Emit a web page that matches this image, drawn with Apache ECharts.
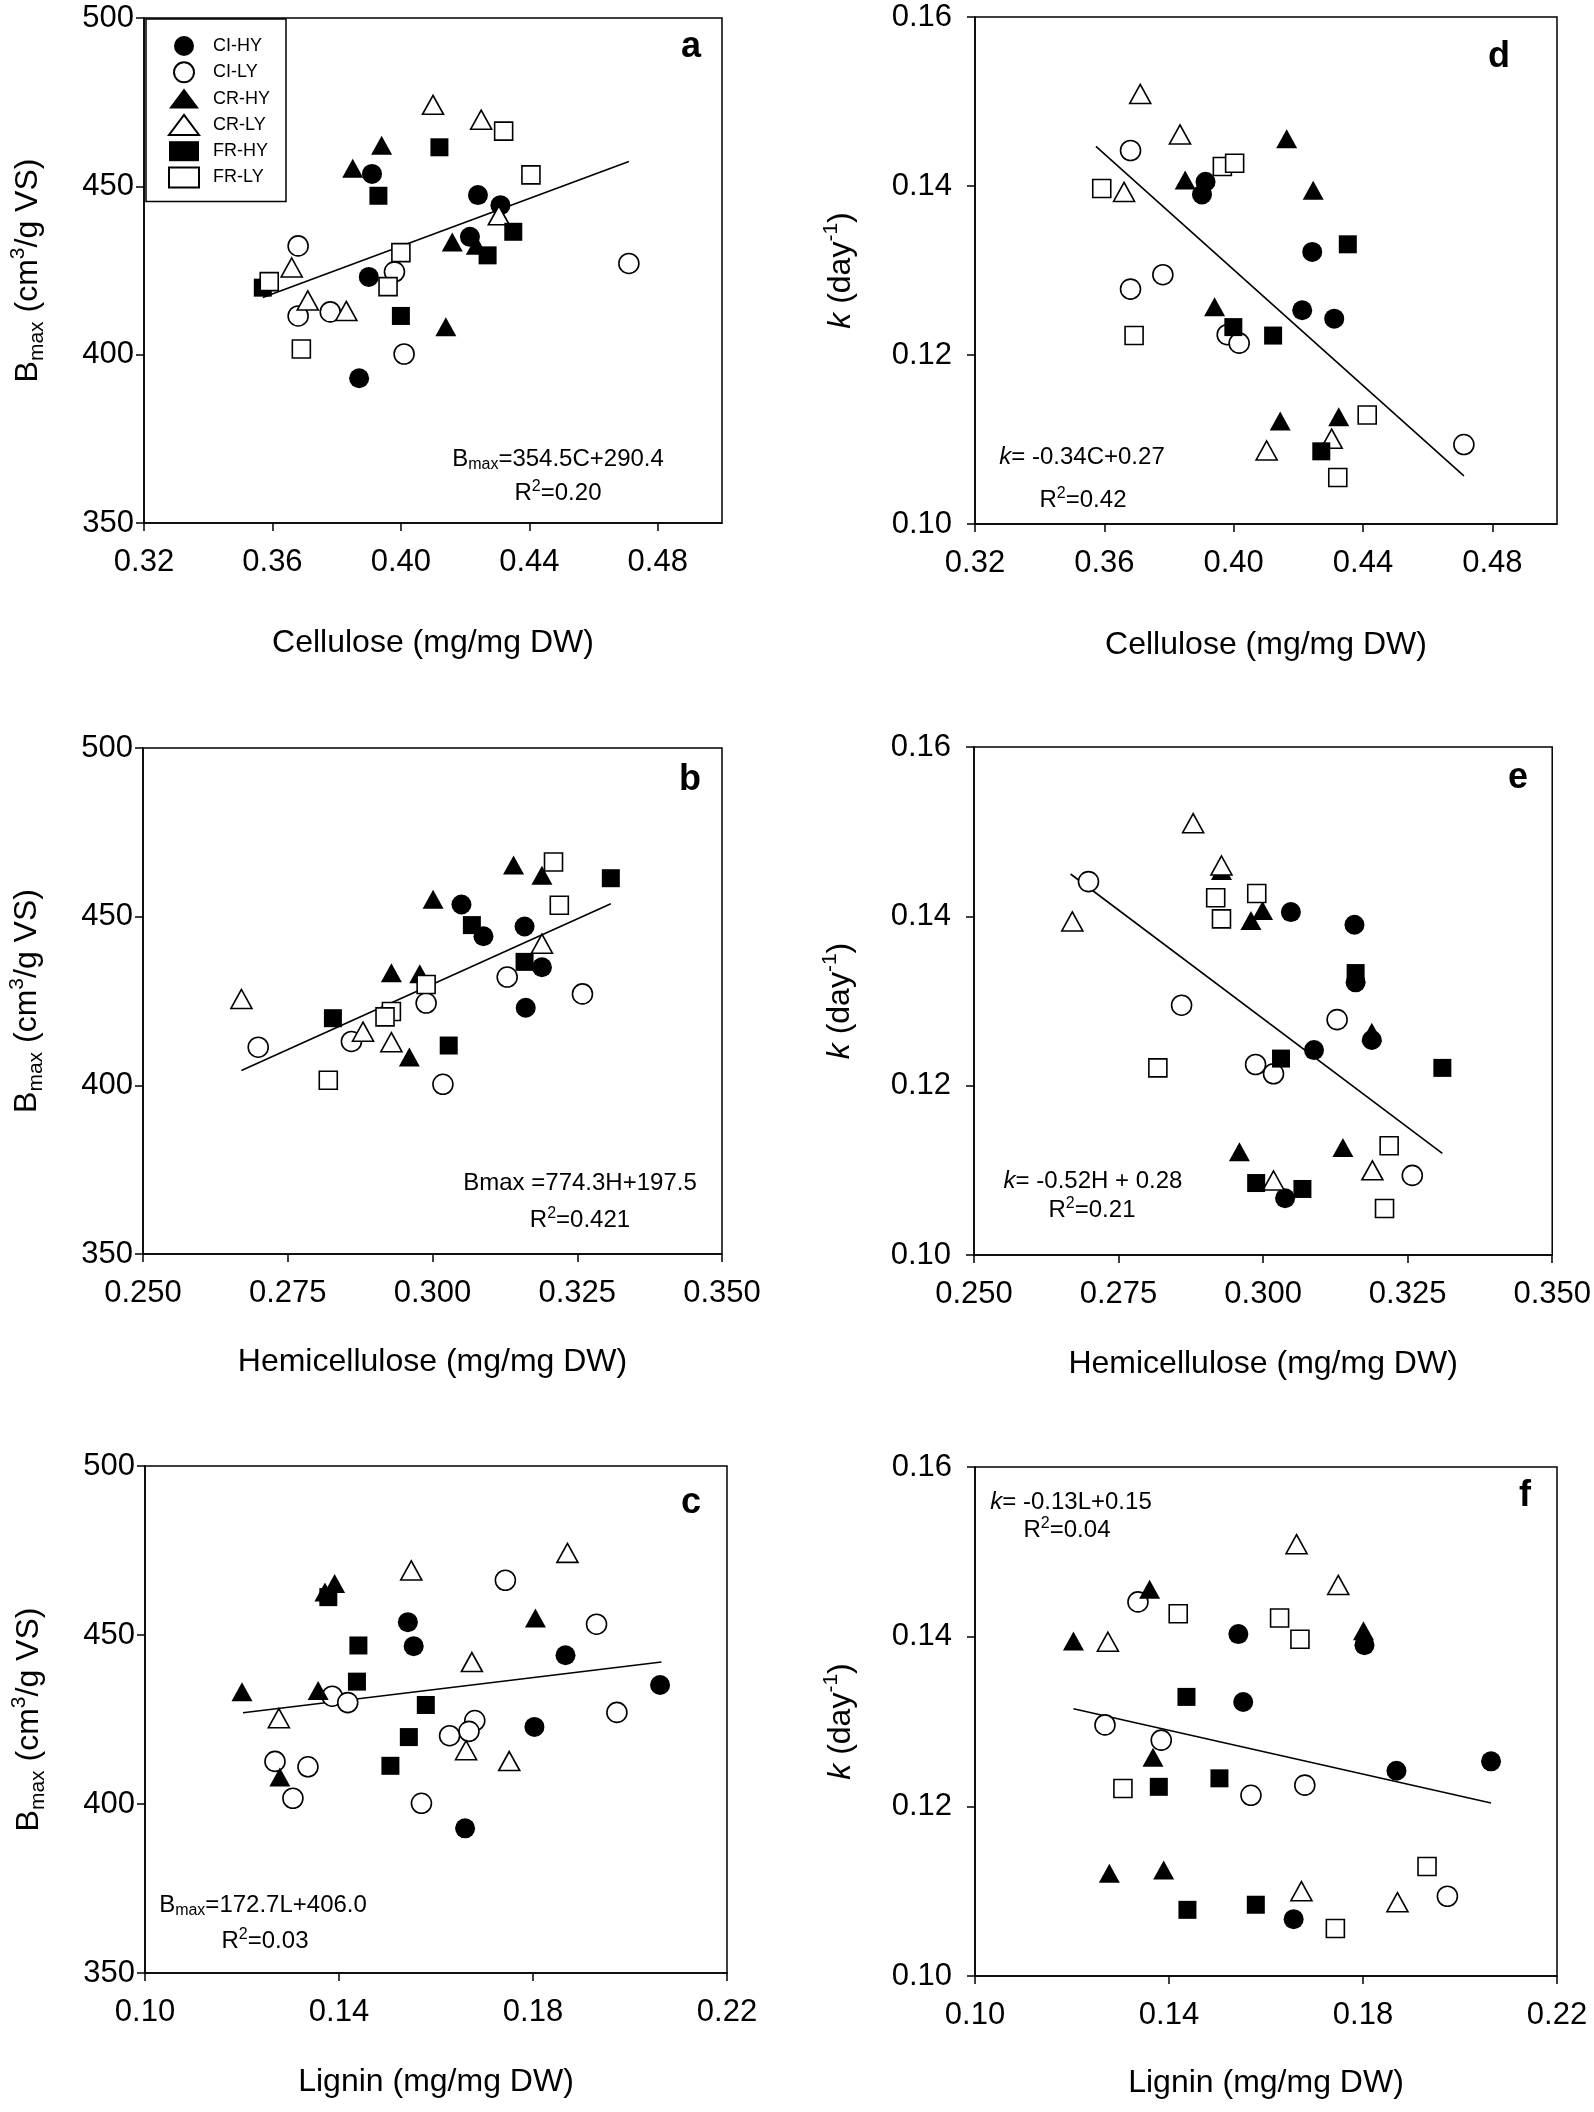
<!DOCTYPE html>
<html>
<head>
<meta charset="utf-8">
<title>Bmax and k versus fibre composition</title>
<script src="https://cdn.jsdelivr.net/npm/echarts@6.0.0/dist/echarts.min.js"></script>
<style>
  html, body { margin: 0; padding: 0; background: #fff; }
  #chart { width: 1594px; height: 2112px; }
</style>
</head>
<body>
<div id="chart"></div>
<script>
const FONT = '"Liberation Sans", Arial, Helvetica, sans-serif';

// legend groups
const groupNames = ['CI-HY', 'CI-LY', 'CR-HY', 'CR-LY', 'FR-HY', 'FR-LY'];
const groupSymbols = ['circle', 'circle', 'triangle', 'triangle', 'rect', 'rect'];
const groupFilled = [true, false, true, false, true, false];

// tick labels
const cellTicks = [0.32, 0.36, 0.40, 0.44, 0.48];
const hemiTicks = [0.250, 0.275, 0.300, 0.325, 0.350];
const ligTicks = [0.10, 0.14, 0.18, 0.22];
const bmaxTicks = [350, 400, 450, 500];
const kTicks = [0.10, 0.12, 0.14, 0.16];

// a: cellulose vs Bmax
const aCIHY = [[0.391, 453.7], [0.424, 447.4], [0.431, 444.4], [0.4215, 435.0], [0.390, 423.1], [0.387, 393.0]];
const aCILY = [[0.368, 432.3], [0.368, 411.5], [0.378, 412.7], [0.398, 424.6], [0.401, 400.2], [0.471, 427.1]];
const aCRHY = [[0.385, 455.4], [0.394, 462.2], [0.416, 433.5], [0.4235, 432.5], [0.414, 408.3]];
const aCRLY = [[0.410, 474.2], [0.425, 469.8], [0.4305, 441.4], [0.366, 425.9], [0.371, 416.1], [0.383, 413.0]];
const aFRHY = [[0.412, 461.6], [0.393, 447.2], [0.435, 436.5], [0.427, 429.5], [0.400, 411.5], [0.357, 419.9]];
const aFRLY = [[0.432, 466.4], [0.4405, 453.4], [0.400, 430.3], [0.396, 420.2], [0.359, 421.7], [0.369, 401.7]];
const fitA = [[0.357, 417.0], [0.471, 457.4]];

// d: cellulose vs k
const dCIHY = [[0.3913, 0.1405], [0.3902, 0.1390], [0.4243, 0.1322], [0.4212, 0.1253], [0.4311, 0.1243]];
const dCILY = [[0.3681, 0.1442], [0.3681, 0.1278], [0.3781, 0.1295], [0.398, 0.1224], [0.4017, 0.1214], [0.4712, 0.1094]];
const dCRHY = [[0.4164, 0.1456], [0.385, 0.1407], [0.4246, 0.1395], [0.3941, 0.1257], [0.4144, 0.1122], [0.4325, 0.1127]];
const dCRLY = [[0.3711, 0.1509], [0.3834, 0.1461], [0.3661, 0.1393], [0.4102, 0.1087], [0.4303, 0.1101]];
const dFRHY = [[0.4353, 0.1331], [0.3999, 0.1233], [0.4122, 0.1223], [0.4271, 0.1086]];
const dFRLY = [[0.3592, 0.1397], [0.3965, 0.1423], [0.4003, 0.1427], [0.3692, 0.1223], [0.4413, 0.1129], [0.4322, 0.1055]];
const fitD = [[0.3574, 0.1447], [0.4712, 0.1057]];

// b: hemicellulose vs Bmax
const bCIHY = [[0.305, 453.6], [0.3088, 444.2], [0.3159, 447.1], [0.3189, 435.0], [0.3161, 423.0]];
const bCILY = [[0.2699, 411.3], [0.286, 413.0], [0.2989, 424.4], [0.3018, 400.3], [0.3129, 432.1], [0.3259, 427.1]];
const bCRHY = [[0.3001, 455.2], [0.2929, 433.4], [0.2978, 433.1], [0.296, 408.4], [0.314, 465.3], [0.3189, 462.3]];
const bCRLY = [[0.267, 425.6], [0.288, 415.9], [0.2929, 412.8], [0.3189, 442.0]];
const bFRHY = [[0.2828, 419.9], [0.3068, 447.5], [0.3159, 436.6], [0.3028, 411.8], [0.3308, 461.4]];
const bFRLY = [[0.3209, 466.2], [0.3219, 453.4], [0.2989, 429.9], [0.2929, 421.9], [0.2918, 420.3], [0.282, 401.5]];
const fitB = [[0.267, 404.4], [0.3308, 453.8]];

// e: hemicellulose vs k
const eCIHY = [[0.3048, 0.1405], [0.3158, 0.1390], [0.316, 0.1322], [0.3188, 0.1254], [0.3088, 0.1242], [0.3038, 0.1067]];
const eCILY = [[0.2698, 0.1441], [0.2859, 0.1295], [0.3128, 0.1278], [0.2987, 0.1225], [0.3018, 0.1214], [0.3258, 0.1094]];
const eCRHY = [[0.2928, 0.1454], [0.2999, 0.1407], [0.2979, 0.1395], [0.2959, 0.1122], [0.3138, 0.1127], [0.3188, 0.1263]];
const eCRLY = [[0.2879, 0.1510], [0.2928, 0.1460], [0.267, 0.1394], [0.3018, 0.1088], [0.3189, 0.1100]];
const eFRHY = [[0.316, 0.1333], [0.3031, 0.1232], [0.331, 0.1221], [0.2988, 0.1085], [0.3068, 0.1078]];
const eFRLY = [[0.2918, 0.1422], [0.2989, 0.1427], [0.2928, 0.1397], [0.2818, 0.1221], [0.3218, 0.1129], [0.321, 0.1055]];
const fitE = [[0.2667, 0.1450], [0.331, 0.1120]];

// c: lignin vs Bmax
const cCIHY = [[0.1542, 453.8], [0.1554, 446.7], [0.1867, 444.0], [0.2062, 435.2], [0.1803, 422.8], [0.166, 392.8]];
const cCILY = [[0.1386, 431.9], [0.1418, 430.0], [0.1743, 466.2], [0.1931, 453.2], [0.1973, 427.1], [0.168, 424.7],
  [0.1668, 421.5], [0.1628, 420.2], [0.1268, 412.6], [0.1336, 411.0], [0.1305, 401.7], [0.157, 400.2]];
const cCRHY = [[0.1391, 465.2], [0.1371, 462.7], [0.1805, 455.0], [0.120, 433.2], [0.1357, 433.6], [0.1278, 408.0]];
const cCRLY = [[0.1549, 469.1], [0.1871, 474.3], [0.1674, 442.0], [0.1276, 425.4], [0.1662, 415.9], [0.1751, 412.7]];
const cFRHY = [[0.1378, 461.2], [0.144, 446.9], [0.1437, 436.2], [0.1579, 429.3], [0.1544, 419.8], [0.1506, 411.3]];
const cFRLY = [];
const fitC = [[0.1202, 427.0], [0.2065, 442.0]];

// f: lignin vs k
const fCIHY = [[0.1543, 0.1403], [0.1553, 0.1323], [0.1803, 0.1390], [0.1869, 0.1242], [0.2064, 0.1253], [0.1657, 0.1067]];
const fCILY = [[0.1336, 0.1441], [0.1268, 0.1296], [0.1384, 0.1278], [0.1569, 0.1213], [0.168, 0.1225], [0.1974, 0.1094]];
const fCRHY = [[0.1203, 0.1395], [0.136, 0.1456], [0.1367, 0.1258], [0.1277, 0.1121], [0.1389, 0.1125], [0.1801, 0.1407]];
const fCRLY = [[0.1274, 0.1394], [0.1663, 0.1509], [0.1749, 0.1461], [0.1673, 0.1100], [0.1871, 0.1087]];
const fFRHY = [[0.1436, 0.1329], [0.1379, 0.1223], [0.1504, 0.1233], [0.1438, 0.1078], [0.1579, 0.1084]];
const fFRLY = [[0.1419, 0.1427], [0.1628, 0.1422], [0.167, 0.1397], [0.1305, 0.1221], [0.1932, 0.1129], [0.1743, 0.1056]];
const fitF = [[0.1203, 0.1315], [0.2064, 0.1204]];

const yKinds = {
  bmax: { min: 350, max: 500, ticks: bmaxTicks, dec: 0, labelMargin: 10, nameGap: 96,
    name: '{t|B}{s|max}{t| (cm}{p|3}{t|/g VS)}' },
  k: { min: 0.10, max: 0.16, ticks: kTicks, dec: 2, labelMargin: 23, nameGap: 114,
    name: '{i|k}{t| (day}{p|-1}{t|)}' }
};

const panels = [
  { grid: { left: 144, top: 18, width: 578, height: 505 }, xMin: 0.32, xMax: 0.50, xTicks: cellTicks, xDec: 2,
    xName: 'Cellulose (mg/mg DW)', xGap: 104, y: 'bmax', pts: [aCIHY, aCILY, aCRHY, aCRLY, aFRHY, aFRLY], fit: fitA,
    letter: ['a', 691, 47.5],
    eq: [['{t|B}{s|max}{t|=354.5C+290.4}', 558, 459], ['{t|R}{p|2}{t|=0.20}', 558, 493]] },
  { grid: { left: 975, top: 17, width: 582, height: 507 }, xMin: 0.32, xMax: 0.50, xTicks: cellTicks, xDec: 2,
    xName: 'Cellulose (mg/mg DW)', xGap: 105, y: 'k', pts: [dCIHY, dCILY, dCRHY, dCRLY, dFRHY, dFRLY], fit: fitD,
    letter: ['d', 1499, 57.5],
    eq: [['{i|k}{t|= -0.34C+0.27}', 1082, 457], ['{t|R}{p|2}{t|=0.42}', 1083, 500]] },
  { grid: { left: 143, top: 748, width: 579, height: 506 }, xMin: 0.25, xMax: 0.35, xTicks: hemiTicks, xDec: 3,
    xName: 'Hemicellulose (mg/mg DW)', xGap: 92, y: 'bmax', pts: [bCIHY, bCILY, bCRHY, bCRLY, bFRHY, bFRLY], fit: fitB,
    letter: ['b', 690, 780],
    eq: [['{t|Bmax =774.3H+197.5}', 580, 1183], ['{t|R}{p|2}{t|=0.421}', 580, 1220]] },
  { grid: { left: 974, top: 747, width: 581, height: 508 }, xMin: 0.25, xMax: 0.35, xTicks: hemiTicks, xDec: 3,
    xName: 'Hemicellulose (mg/mg DW)', xGap: 93, y: 'k', pts: [eCIHY, eCILY, eCRHY, eCRLY, eFRHY, eFRLY], fit: fitE,
    letter: ['e', 1518, 778],
    eq: [['{i|k}{t|= -0.52H + 0.28}', 1093, 1181], ['{t|R}{p|2}{t|=0.21}', 1092, 1210]] },
  { grid: { left: 145, top: 1466, width: 582, height: 507 }, xMin: 0.10, xMax: 0.22, xTicks: ligTicks, xDec: 2,
    xName: 'Lignin (mg/mg DW)', xGap: 93, y: 'bmax', pts: [cCIHY, cCILY, cCRHY, cCRLY, cFRHY, cFRLY], fit: fitC,
    letter: ['c', 691, 1503.5],
    eq: [['{t|B}{s|max}{t|=172.7L+406.0}', 263, 1905], ['{t|R}{p|2}{t|=0.03}', 265, 1941]] },
  { grid: { left: 975, top: 1467, width: 582, height: 509 }, xMin: 0.10, xMax: 0.22, xTicks: ligTicks, xDec: 2,
    xName: 'Lignin (mg/mg DW)', xGap: 91, y: 'k', pts: [fCIHY, fCILY, fCRHY, fCRLY, fFRHY, fFRLY], fit: fitF,
    letter: ['f', 1525, 1496.5],
    eq: [['{i|k}{t|= -0.13L+0.15}', 1071, 1502], ['{t|R}{p|2}{t|=0.04}', 1067, 1530]] }
];

const axisRich = {
  t: { fontSize: 32, lineHeight: 40, fontFamily: FONT, color: '#000' },
  i: { fontSize: 32, lineHeight: 40, fontStyle: 'italic', fontFamily: FONT, color: '#000' },
  s: { fontSize: 21, lineHeight: 21, verticalAlign: 'bottom', fontFamily: FONT, color: '#000' },
  p: { fontSize: 21, lineHeight: 21, verticalAlign: 'top', fontFamily: FONT, color: '#000' }
};
const eqRich = {
  t: { fontSize: 24, lineHeight: 28, fontFamily: FONT, fill: '#000', color: '#000' },
  i: { fontSize: 24, lineHeight: 28, fontStyle: 'italic', fontFamily: FONT, fill: '#000', color: '#000' },
  s: { fontSize: 16, lineHeight: 16, verticalAlign: 'bottom', fontFamily: FONT, fill: '#000', color: '#000' },
  p: { fontSize: 16, lineHeight: 16, verticalAlign: 'top', fontFamily: FONT, fill: '#000', color: '#000' }
};

const black = { color: '#000', width: 1.5 };
const grids = [], xAxes = [], yAxes = [], series = [], graphics = [];

panels.forEach((p, i) => {
  const yk = yKinds[p.y];
  grids.push(Object.assign({ show: true, borderColor: '#000', borderWidth: 1.5 }, p.grid));
  xAxes.push({
    type: 'value', gridIndex: i, min: p.xMin, max: p.xMax,
    splitLine: { show: false },
    axisLine: { onZero: false, lineStyle: black },
    axisTick: { customValues: p.xTicks, length: 8, lineStyle: black },
    axisLabel: { customValues: p.xTicks, formatter: v => v.toFixed(p.xDec), color: '#000',
      fontSize: 31, fontFamily: FONT, margin: 24 },
    name: p.xName, nameLocation: 'middle', nameGap: p.xGap,
    nameTextStyle: { fontSize: 32, fontFamily: FONT, color: '#000' }
  });
  yAxes.push({
    type: 'value', gridIndex: i, min: yk.min, max: yk.max,
    splitLine: { show: false },
    axisLine: { onZero: false, lineStyle: black },
    axisTick: { customValues: yk.ticks, length: 8, lineStyle: black },
    axisLabel: { customValues: yk.ticks, formatter: v => v.toFixed(yk.dec), color: '#000',
      fontSize: 31, fontFamily: FONT, margin: yk.labelMargin },
    name: yk.name, nameLocation: 'middle', nameGap: yk.nameGap,
    nameTextStyle: { fontSize: 32, fontFamily: FONT, color: '#000', rich: axisRich }
  });
  // regression line under the markers
  series.push({
    type: 'line', xAxisIndex: i, yAxisIndex: i, data: p.fit, symbol: 'none',
    lineStyle: { color: '#000', width: 1.6 }, silent: true, z: 1
  });
  p.pts.forEach((pts, g) => {
    const sym = groupSymbols[g];
    series.push({
      type: 'scatter', name: groupNames[g], xAxisIndex: i, yAxisIndex: i, data: pts,
      symbol: sym,
      symbolSize: sym === 'circle' ? 20 : sym === 'triangle' ? [21, 19] : 18,
      itemStyle: groupFilled[g]
        ? { color: '#000', opacity: 1 }
        : { color: '#fff', borderColor: '#000', borderWidth: 1.6, opacity: 1 },
      emphasis: { disabled: true }, z: 2
    });
  });
  graphics.push({
    type: 'text', x: p.letter[1], y: p.letter[2], z: 10,
    style: { text: p.letter[0], fontSize: 36, fontWeight: 'bold', fontFamily: FONT, fill: '#000',
      align: 'center', verticalAlign: 'middle', textAlign: 'center', textVerticalAlign: 'middle' }
  });
  p.eq.forEach(e => {
    graphics.push({
      type: 'text', x: e[1], y: e[2], z: 10,
      style: { text: e[0], rich: eqRich, fontSize: 24, fontFamily: FONT, fill: '#000',
        align: 'center', verticalAlign: 'middle', textAlign: 'center', textVerticalAlign: 'middle' }
    });
  });
});

const chart = echarts.init(document.getElementById('chart'), null, { renderer: 'canvas', width: 1594, height: 2112 });
chart.setOption({
  backgroundColor: '#fff',
  animation: false,
  textStyle: { fontFamily: FONT },
  legend: {
    data: groupNames, orient: 'vertical', left: 146, top: 19,
    padding: [17, 16, 13, 22], itemGap: 5.3, itemWidth: 30, itemHeight: 20,
    borderColor: '#000', borderWidth: 1.5, selectedMode: false,
    textStyle: { fontSize: 18, lineHeight: 18, color: '#000', fontFamily: FONT, padding: [0, 0, 0, 9] }
  },
  grid: grids,
  xAxis: xAxes,
  yAxis: yAxes,
  series: series,
  graphic: graphics
});
</script>
</body>
</html>
